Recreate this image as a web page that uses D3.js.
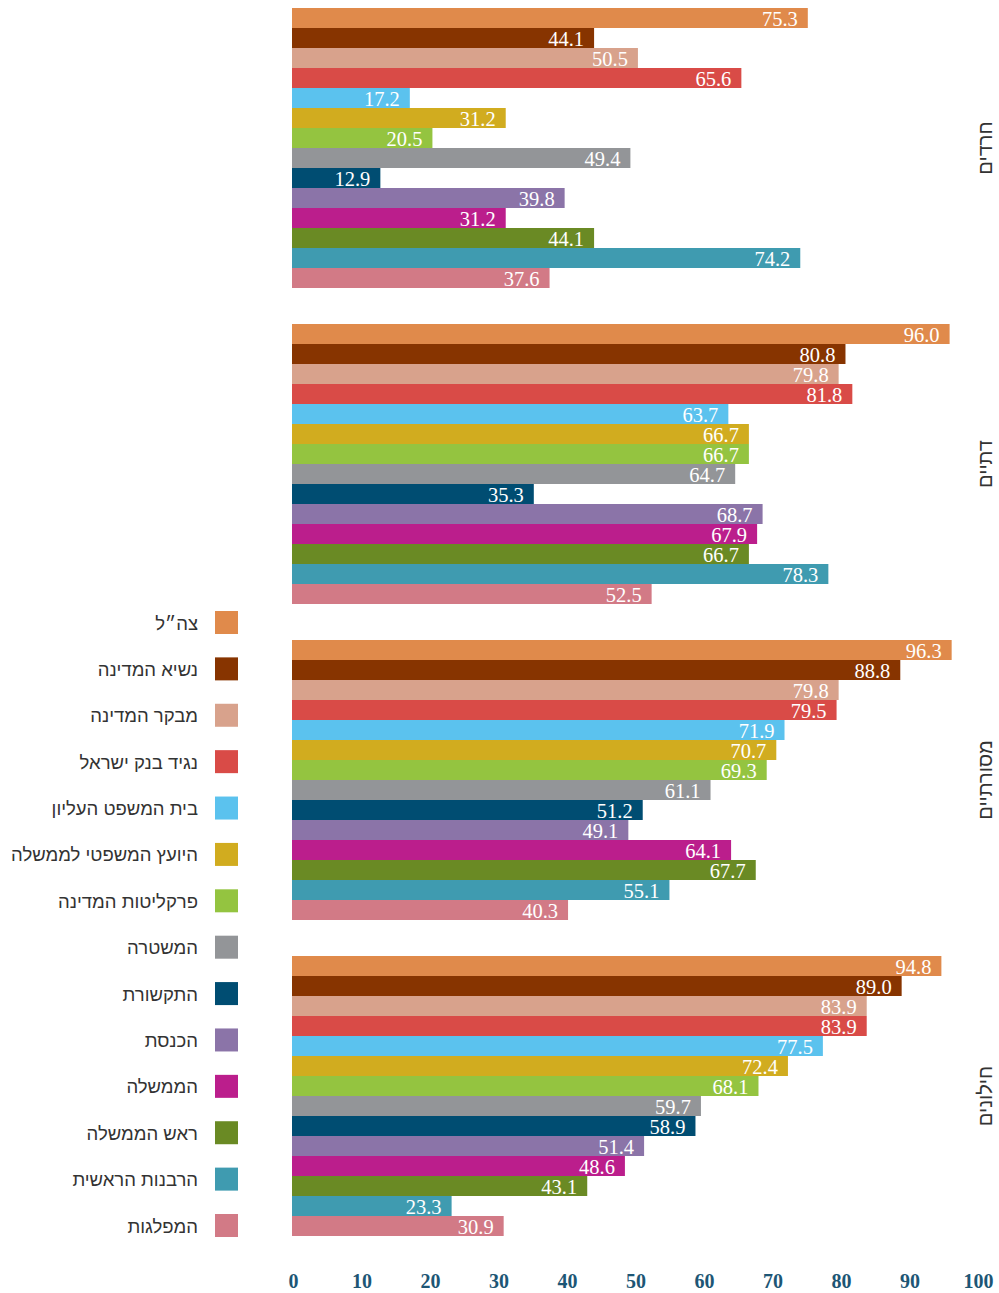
<!DOCTYPE html>
<html lang="he">
<head>
<meta charset="utf-8">
<script src="https://cdn.jsdelivr.net/npm/d3@7"></script>
<style>
  html, body { margin: 0; padding: 0; background: #fff; }
  svg { display: block; }
</style>
</head>
<body>
<svg id="chart" width="999" height="1293"></svg>
<script>
// ---- data ----
const groups = ["חרדים", "דתיים", "מסורתיים", "חילונים"];
const series = [
  "צה\u05F4ל", "נשיא המדינה", "מבקר המדינה", "נגיד בנק ישראל",
  "בית המשפט העליון", "היועץ המשפטי לממשלה", "פרקליטות המדינה",
  "המשטרה", "התקשורת", "הכנסת", "הממשלה", "ראש הממשלה",
  "הרבנות הראשית", "המפלגות"
];
const colors = [
  "#E08A4B", "#873400", "#D8A28C", "#D94B47", "#5BC2EE", "#D1AC1F",
  "#94C440", "#939598", "#004D72", "#8B74A8", "#BB1E8C", "#6A8A24",
  "#3F9BB0", "#D27A86"
];
const valuesHaredim   = [75.3, 44.1, 50.5, 65.6, 17.2, 31.2, 20.5, 49.4, 12.9, 39.8, 31.2, 44.1, 74.2, 37.6];
const valuesDatiim    = [96.0, 80.8, 79.8, 81.8, 63.7, 66.7, 66.7, 64.7, 35.3, 68.7, 67.9, 66.7, 78.3, 52.5];
const valuesMasorti   = [96.3, 88.8, 79.8, 79.5, 71.9, 70.7, 69.3, 61.1, 51.2, 49.1, 64.1, 67.7, 55.1, 40.3];
const valuesHiloni    = [94.8, 89.0, 83.9, 83.9, 77.5, 72.4, 68.1, 59.7, 58.9, 51.4, 48.6, 43.1, 23.3, 30.9];
const groupValues = [valuesHaredim, valuesDatiim, valuesMasorti, valuesHiloni];
const ticks = [0, 10, 20, 30, 40, 50, 60, 70, 80, 90, 100];

// ---- scales ----
const svg = d3.select("#chart");
const x = d3.scaleLinear().domain([0, 100]).range([292, 977]);
const yGroup = d3.scaleBand().domain(groups).range([8, 1236]).paddingInner(36 / 316).paddingOuter(0);
const ySeries = d3.scaleBand().domain(series).range([0, yGroup.bandwidth()]).padding(0);
const color = d3.scaleOrdinal().domain(series).range(colors);

const table = groups.map((g, gi) => ({
  group: g,
  rows: series.map((s, si) => ({ series: s, value: groupValues[gi][si] }))
}));

// ---- bars ----
const gSel = svg.selectAll("g.group").data(table).join("g")
  .attr("class", "group")
  .attr("transform", d => `translate(0,${yGroup(d.group)})`);

gSel.selectAll("rect").data(d => d.rows).join("rect")
  .attr("x", x(0))
  .attr("y", d => ySeries(d.series))
  .attr("width", d => x(d.value) - x(0))
  .attr("height", ySeries.bandwidth())
  .attr("fill", d => color(d.series));

gSel.selectAll("text.val").data(d => d.rows).join("text")
  .attr("class", "val")
  .attr("x", d => x(d.value) - 10)
  .attr("y", d => ySeries(d.series) + ySeries.bandwidth() / 2 + 8)
  .attr("text-anchor", "end")
  .attr("fill", "#fff")
  .style("font-family", "'Liberation Serif', 'DejaVu Serif', serif")
  .style("font-size", "20.5px")
  .text(d => d.value.toFixed(1));

// ---- group labels (vertical) ----
svg.selectAll("text.glabel").data(groups).join("text")
  .attr("class", "glabel")
  .attr("transform", d => `translate(992,${yGroup(d) + yGroup.bandwidth() / 2}) rotate(-90)`)
  .attr("text-anchor", "middle")
  .attr("fill", "#333")
  .style("font-family", "'Liberation Sans', Arial, sans-serif")
  .style("font-size", "20px")
  .text(d => d);

// ---- x axis ----
const axis = d3.axisBottom(x).tickValues(ticks).tickSize(0).tickPadding(0).tickFormat(d3.format("d"));
const axG = svg.append("g").attr("transform", "translate(1,1274)").call(axis);
axG.select(".domain").remove();
axG.selectAll("text")
  .attr("dy", "0.71em")
  .attr("fill", "#1D5675")
  .style("font-family", "'Liberation Serif', 'DejaVu Serif', serif")
  .style("font-weight", "bold")
  .style("font-size", "20px");

// ---- legend ----
const legendY = d3.scaleLinear().domain([0, series.length - 1]).range([611, 1214]);
const leg = svg.selectAll("g.leg").data(series).join("g")
  .attr("class", "leg")
  .attr("transform", (d, i) => `translate(0,${legendY(i)})`);
leg.append("rect")
  .attr("x", 215).attr("y", 0).attr("width", 23).attr("height", 23)
  .attr("fill", d => color(d));
leg.append("text")
  .attr("x", 198).attr("y", 18.5)
  .attr("text-anchor", "end")
  .attr("fill", "#333")
  .style("font-family", "'Liberation Sans', Arial, sans-serif")
  .style("font-size", "18.5px")
  .text(d => d);
</script>
</body>
</html>
